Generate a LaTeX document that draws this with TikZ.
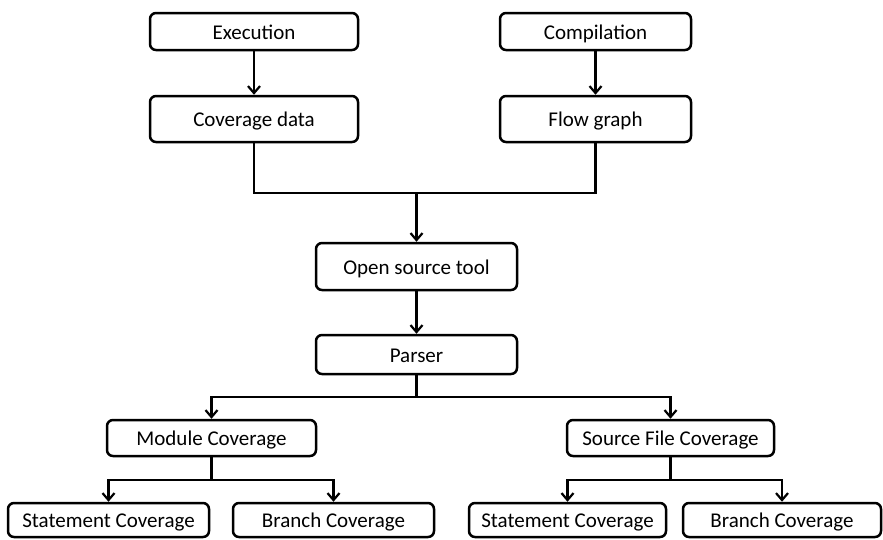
\documentclass[tikz,border=0pt]{standalone}
\usepackage{fontspec}
\setmainfont{Carlito}
\usetikzlibrary{arrows.meta}
\begin{document}
\begin{tikzpicture}[x=1pt,y=1pt,
  box/.style={draw, line width=2.5pt, rounded corners=6pt, inner sep=0pt,
    font=\fontsize{21}{24}\selectfont, text height=15.5pt, text depth=0pt},
  link/.style={line width=2.4pt},
  arr/.style={link, -{Straight Barb[length=7pt,width=12pt,line width=2.2pt]}}]
\useasboundingbox (0,0) rectangle (883,-539);
\fill[white] (0,0) rectangle (883,-539);

% top row: two inputs and their products
\node[box, minimum width=208, minimum height=37] (exec) at (254,-31.5) {Execution};
\node[box, minimum width=208, minimum height=46] (cov) at (254,-119) {Coverage data};
\node[box, minimum width=191, minimum height=37] (comp) at (595.5,-31.5) {Compilation};
\node[box, minimum width=191, minimum height=46] (flow) at (595.5,-119) {Flow graph};

% middle column
\node[box, minimum width=201, minimum height=47] (ost) at (416.5,-266.5) {Open source tool};
\node[box, minimum width=201, minimum height=39] (parser) at (416.5,-354.5) {Parser};

% report level
\node[box, minimum width=209, minimum height=36] (mod) at (211.5,-438) {Module Coverage};
\node[box, minimum width=207, minimum height=36] (sfc) at (670.5,-438) {Source File Coverage};

% leaf reports
\node[box, minimum width=201, minimum height=34] (stl) at (108.5,-520) {Statement Coverage};
\node[box, minimum width=201, minimum height=34] (brl) at (333.5,-520) {Branch Coverage};
\node[box, minimum width=197, minimum height=34] (str) at (567.5,-520) {Statement Coverage};
\node[box, minimum width=198, minimum height=34] (brr) at (782,-520) {Branch Coverage};

% junction points
\coordinate (j) at (416.5,-193);
\coordinate (p) at (416.5,-397);
\coordinate (m) at (211.5,-480);
\coordinate (s) at (670.5,-480);

% connectors
\draw[arr] (exec) -- (cov);
\draw[arr] (comp) -- (flow);
\draw[link] (cov.south) |- (j) -| (flow.south);
\draw[arr] (j) -- (ost.north);
\draw[arr] (ost) -- (parser);
\draw[link] (parser.south) -- (p);
\draw[arr] (p) -| (mod.north);
\draw[arr] (p) -| (sfc.north);
\draw[link] (mod.south) -- (m);
\draw[arr] (m) -| (stl.north);
\draw[arr] (m) -| (brl.north);
\draw[link] (sfc.south) -- (s);
\draw[arr] (s) -| (str.north);
\draw[arr] (s) -| (brr.north);
\end{tikzpicture}
\end{document}
